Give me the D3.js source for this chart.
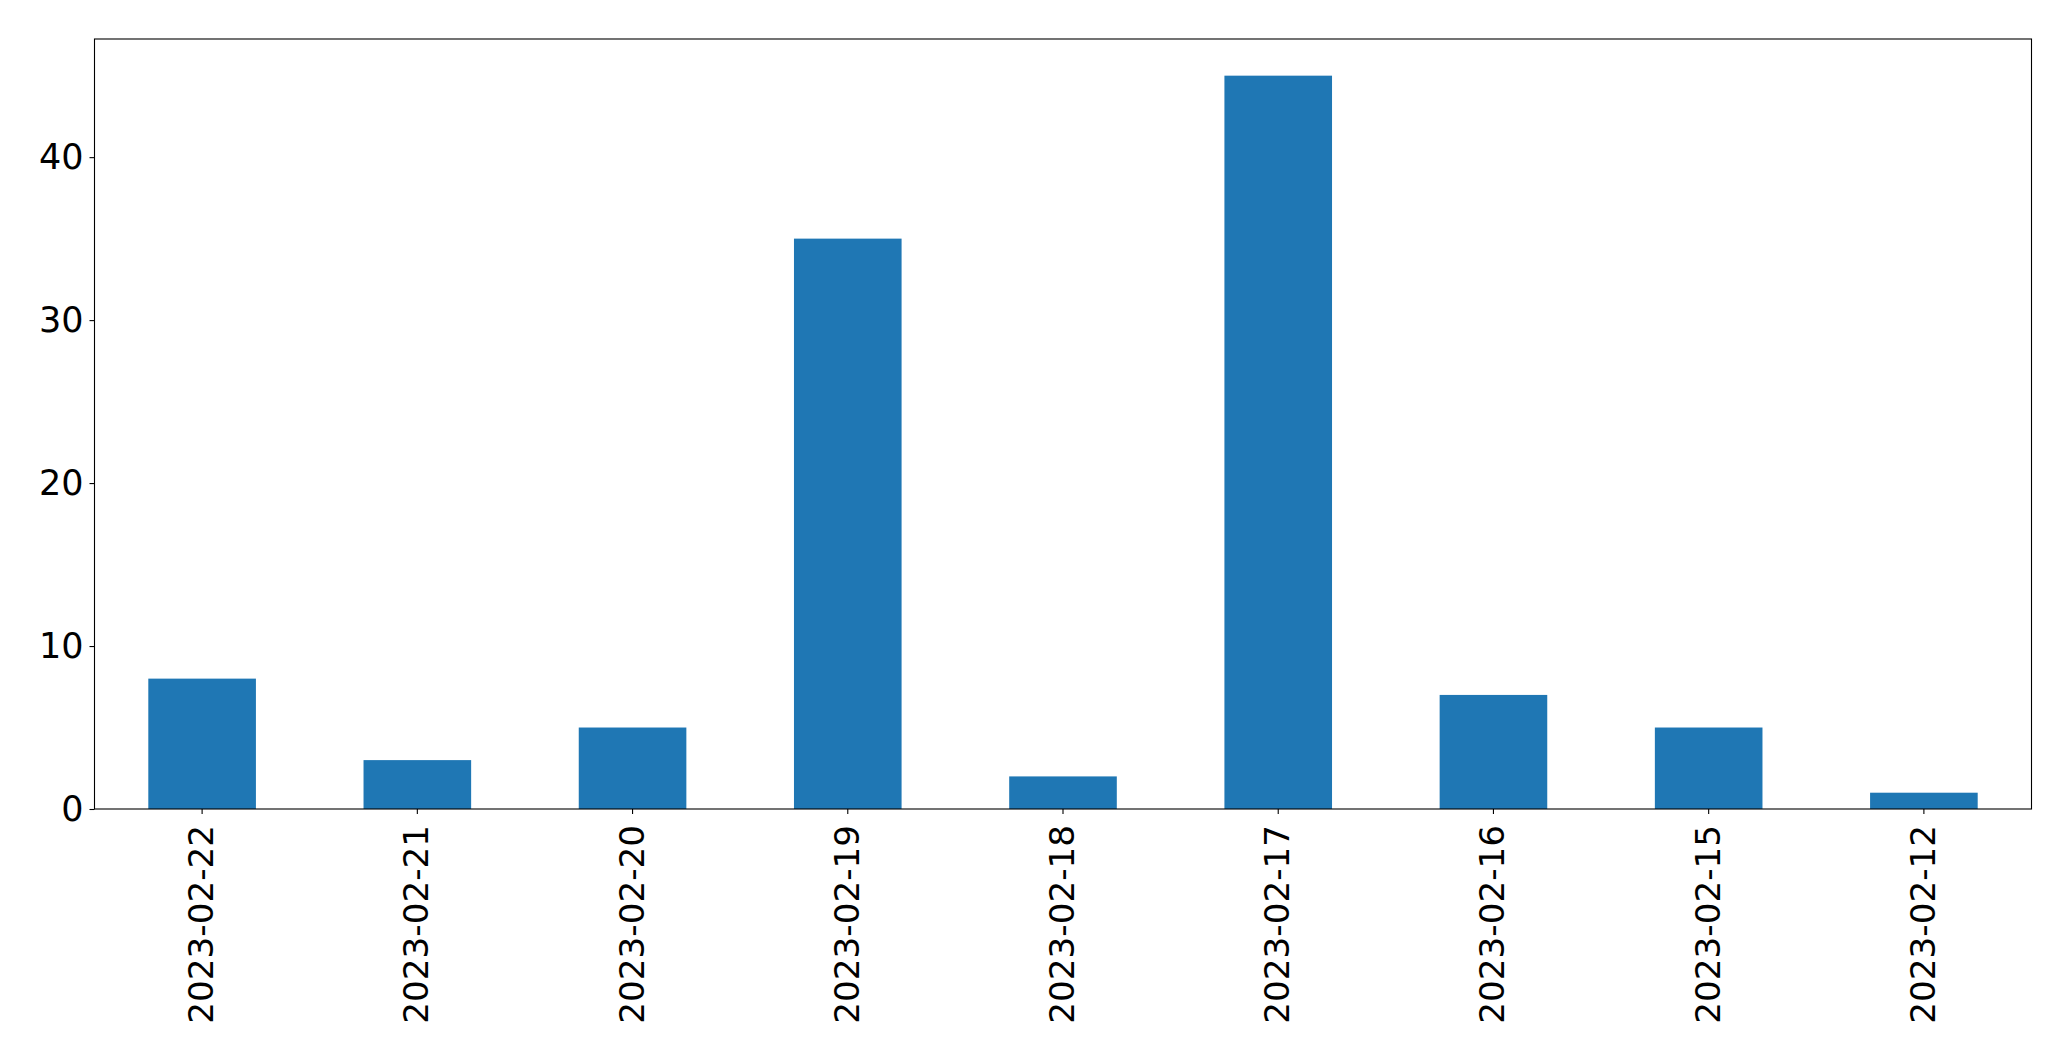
<!DOCTYPE html>
<html><head><meta charset="utf-8">
<script src="https://cdn.jsdelivr.net/npm/d3@7"></script>
<style>body{margin:0;background:#fff}svg{display:block}text{font-family:"DejaVu Sans",sans-serif}</style>
</head><body><svg id="c" width="2071" height="1061"></svg>
<script>
const categories = ["2023-02-22","2023-02-21","2023-02-20","2023-02-19","2023-02-18","2023-02-17","2023-02-16","2023-02-15","2023-02-12"];
const values = [8,3,5,35,2,45,7,5,1];
const yTicks = [0,10,20,30,40];

const L = 94.5, R = 2031.5, T = 39, B = 809;
const svg = d3.select("#c");
const x = d3.scaleBand().domain(categories).range([L, R]).paddingInner(0.5).paddingOuter(0.25);
const y = d3.scaleLinear().domain([0, d3.max(values) * 1.05]).range([B, T]);

svg.append("g").selectAll("rect").data(values).join("rect")
  .attr("x", (d, i) => x(categories[i]))
  .attr("width", x.bandwidth())
  .attr("y", d => y(d))
  .attr("height", d => B - y(d))
  .attr("fill", "#1f77b4");

const yAxis = svg.append("g").attr("transform", `translate(${L},0)`)
  .call(d3.axisLeft(y).tickValues(yTicks).tickSize(5).tickPadding(6).tickFormat(d3.format("d")));
yAxis.select(".domain").remove();
yAxis.selectAll("line").attr("stroke", "#000").attr("stroke-width", 1.1);
yAxis.selectAll("text").attr("font-size", 35).attr("fill", "#000").attr("font-family", "DejaVu Sans");

const xAxis = svg.append("g").attr("transform", `translate(0,${B})`)
  .call(d3.axisBottom(x).tickSize(5).tickPadding(0));
xAxis.select(".domain").remove();
xAxis.selectAll("line").attr("stroke", "#000").attr("stroke-width", 1.1);
xAxis.selectAll("text")
  .attr("font-size", 34.2).attr("fill", "#000").attr("font-family", "DejaVu Sans")
  .attr("y", 0).attr("dy", null)
  .attr("text-anchor", "end")
  .attr("dominant-baseline", "central")
  .attr("transform", "translate(-1,16) rotate(-90)");

svg.append("rect").attr("x", L).attr("y", T).attr("width", R - L).attr("height", B - T)
  .attr("fill", "none").attr("stroke", "#000").attr("stroke-width", 1.1);
</script></body></html>
